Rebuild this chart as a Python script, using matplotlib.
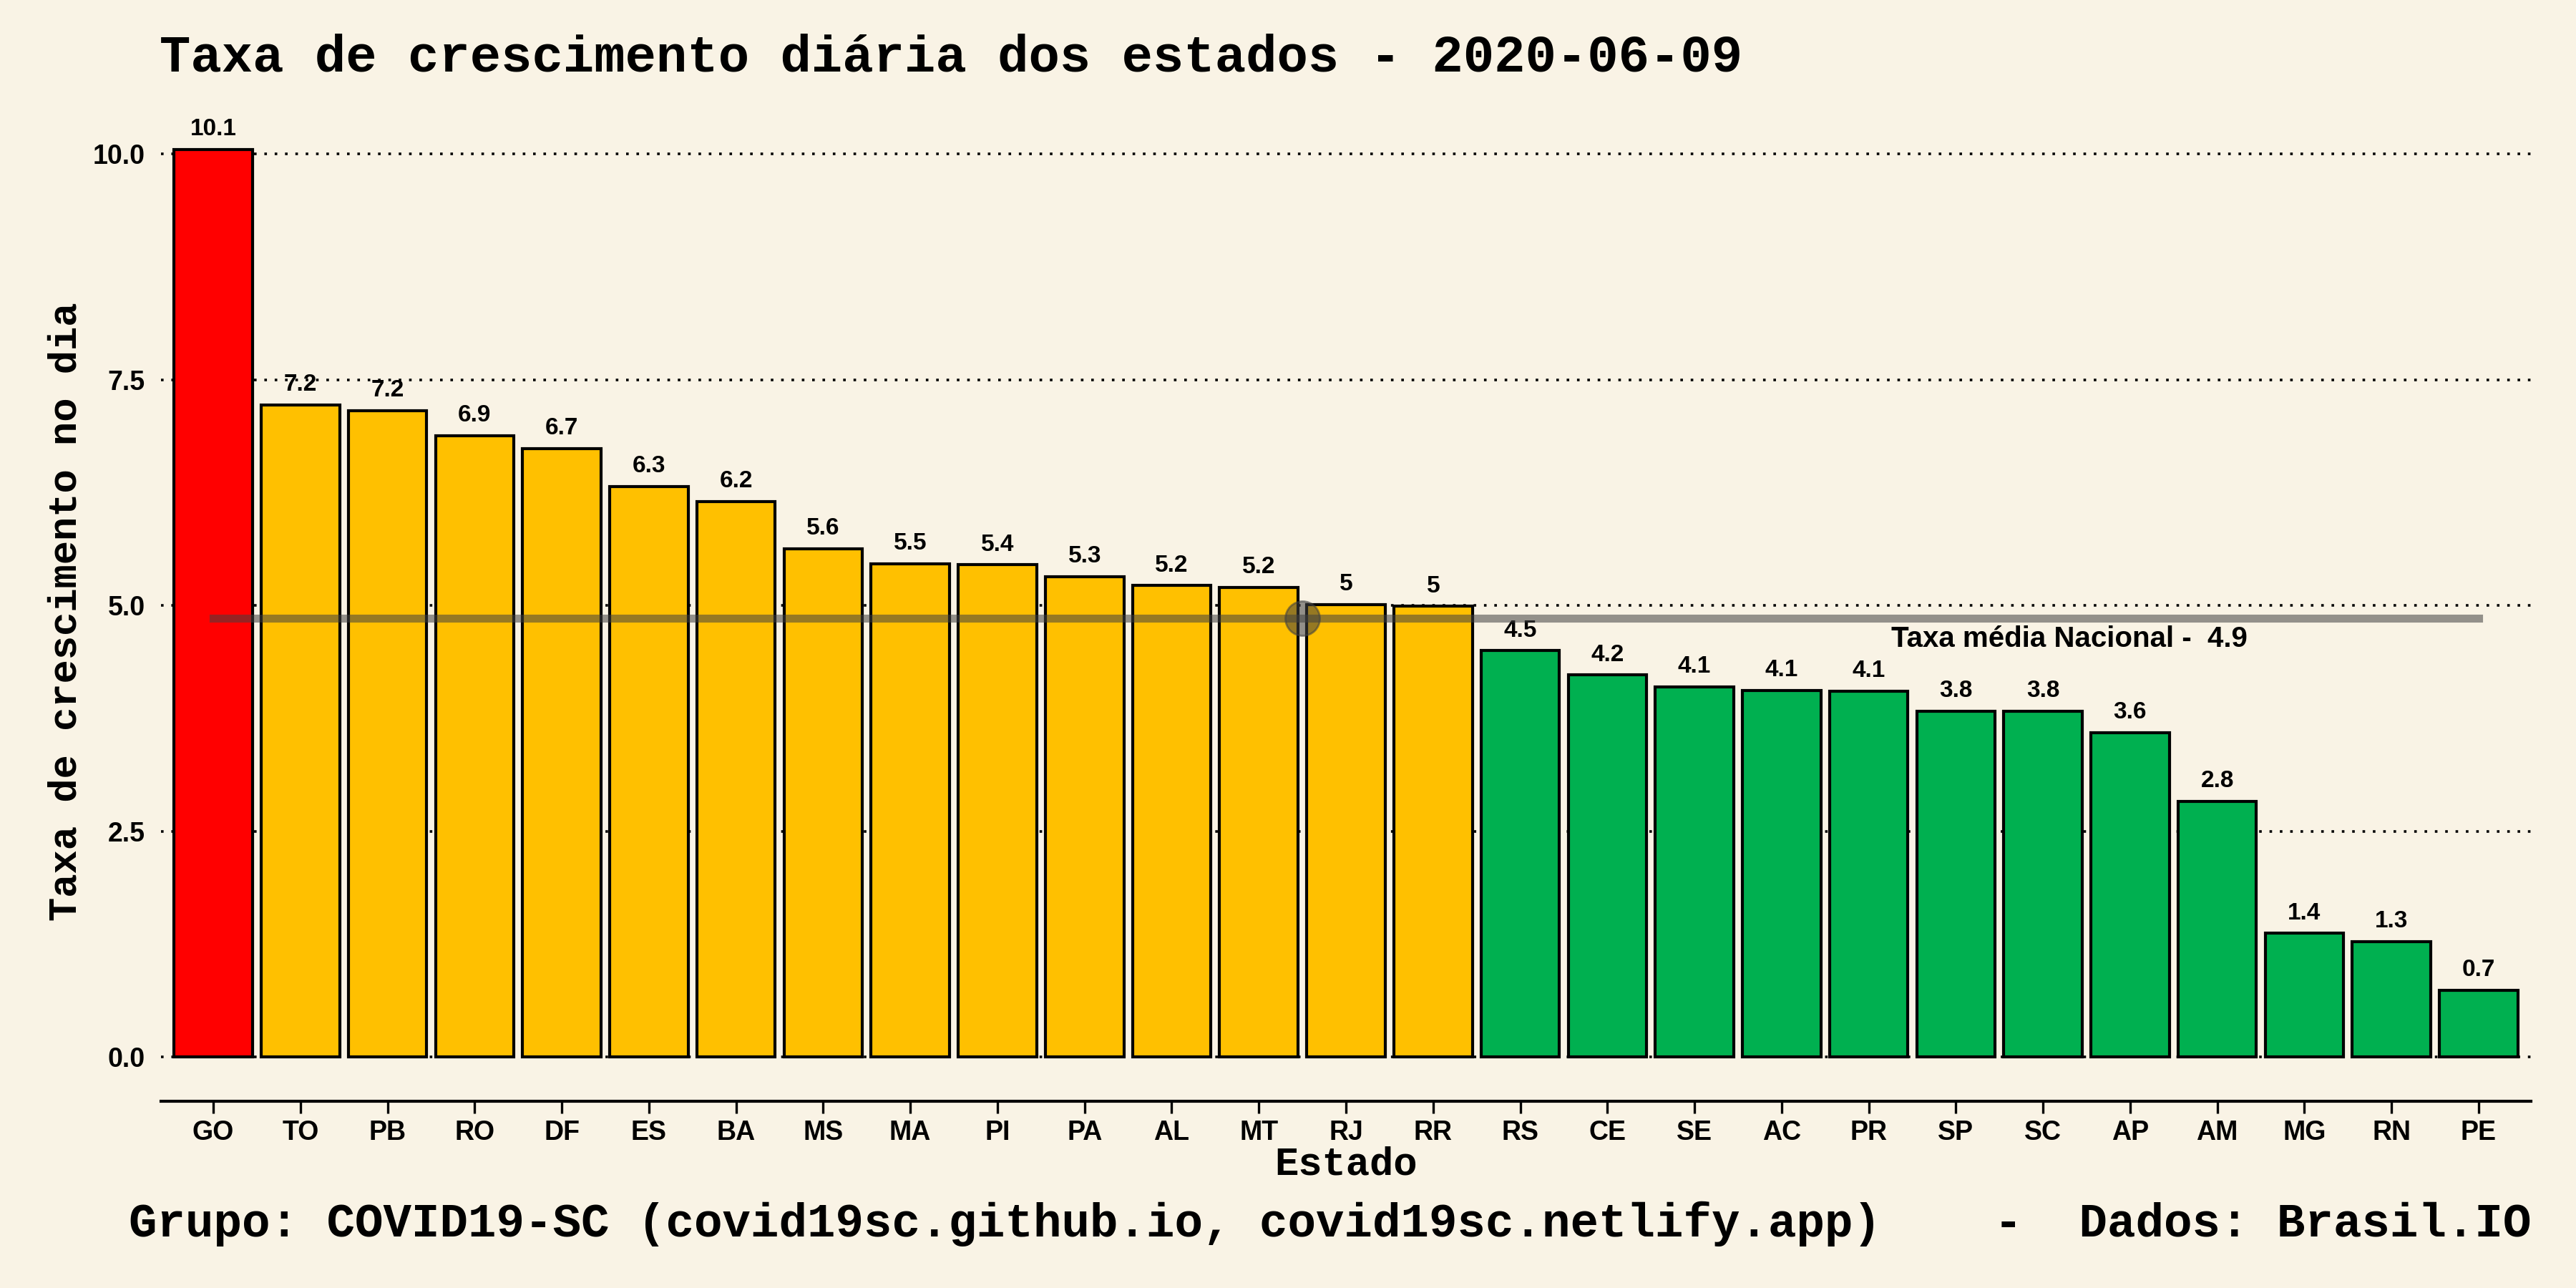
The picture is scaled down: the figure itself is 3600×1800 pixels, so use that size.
import matplotlib.pyplot as plt

estados = ['GO', 'TO', 'PB', 'RO', 'DF', 'ES', 'BA', 'MS', 'MA', 'PI', 'PA', 'AL', 'MT', 'RJ',
           'RR', 'RS', 'CE', 'SE', 'AC', 'PR', 'SP', 'SC', 'AP', 'AM', 'MG', 'RN', 'PE']
taxas = [10.05, 7.22, 7.16, 6.88, 6.74, 6.32, 6.15, 5.63, 5.46, 5.45, 5.32, 5.22, 5.20, 5.01,
         4.99, 4.50, 4.23, 4.10, 4.06, 4.05, 3.83, 3.83, 3.59, 2.83, 1.37, 1.28, 0.74]
rotulos = ['10.1', '7.2', '7.2', '6.9', '6.7', '6.3', '6.2', '5.6', '5.5', '5.4', '5.3', '5.2', '5.2', '5',
           '5', '4.5', '4.2', '4.1', '4.1', '4.1', '3.8', '3.8', '3.6', '2.8', '1.4', '1.3', '0.7']
media = 4.86
media_pos = 12.5

bg = '#F9F3E5'
mono = 'Liberation Mono'
sans = 'Liberation Sans'


def cor(v):
    if v > 7.5:
        return '#FF0000'
    if v >= media + 0.1:
        return '#FFC000'
    return '#00B050'


fig = plt.figure(figsize=(18, 9), dpi=200, facecolor=bg)
ax = fig.add_axes([0.0625, 0.145, 0.92, 0.76], facecolor=bg)

x = range(len(estados))
ax.bar(x, taxas, width=0.9, color=[cor(v) for v in taxas], edgecolor='black', linewidth=1.5, zorder=3)
for i, (v, r) in enumerate(zip(taxas, rotulos)):
    ax.text(i, v + 0.1, r, ha='center', va='bottom', fontsize=12, fontweight='bold', family=sans, zorder=4)

ax.plot([0, len(estados) - 1], [media, media], color='#404040', alpha=0.55, linewidth=4, zorder=5)
ax.scatter([media_pos], [media], s=300, color='#404040', alpha=0.55, zorder=6)
ax.text(23.35, media - 0.08, 'Taxa média Nacional -  %.1f' % media, ha='right', va='top',
        fontsize=14.5, fontweight='bold', family=sans, zorder=6)

ax.set_xlim(-0.6, len(estados) - 0.4)
ax.set_ylim(-0.49, 10.35)
ax.set_yticks([0, 2.5, 5, 7.5, 10])
ax.set_yticklabels(['0.0', '2.5', '5.0', '7.5', '10.0'])
ax.set_xticks(list(x))
ax.set_xticklabels(estados)
ax.yaxis.grid(True, linestyle=(0, (1, 3)), color='black', linewidth=1.3, zorder=0)
for s in ['top', 'right', 'left']:
    ax.spines[s].set_visible(False)
ax.spines['bottom'].set_linewidth(1.5)
ax.tick_params(axis='y', length=0, pad=8)
ax.tick_params(axis='x', length=6, width=1.2)
for lab in ax.get_xticklabels() + ax.get_yticklabels():
    lab.set_fontfamily(sans)
    lab.set_fontweight('bold')
    lab.set_fontsize(13.5)

ax.set_xlabel('Estado', fontsize=20, fontweight='bold', family=mono, labelpad=0)
ax.set_ylabel('Taxa de crescimento no dia', fontsize=20, fontweight='bold', family=mono)
fig.text(0.062, 0.955, 'Taxa de crescimento diária dos estados - 2020-06-09', fontsize=26,
         fontweight='bold', family=mono, va='center')
fig.text(0.05, 0.05, 'Grupo: COVID19-SC (covid19sc.github.io, covid19sc.netlify.app)    -  Dados: Brasil.IO',
         fontsize=23.7, fontweight='bold', family=mono, va='center')

fig.savefig('out.png', facecolor=bg)
